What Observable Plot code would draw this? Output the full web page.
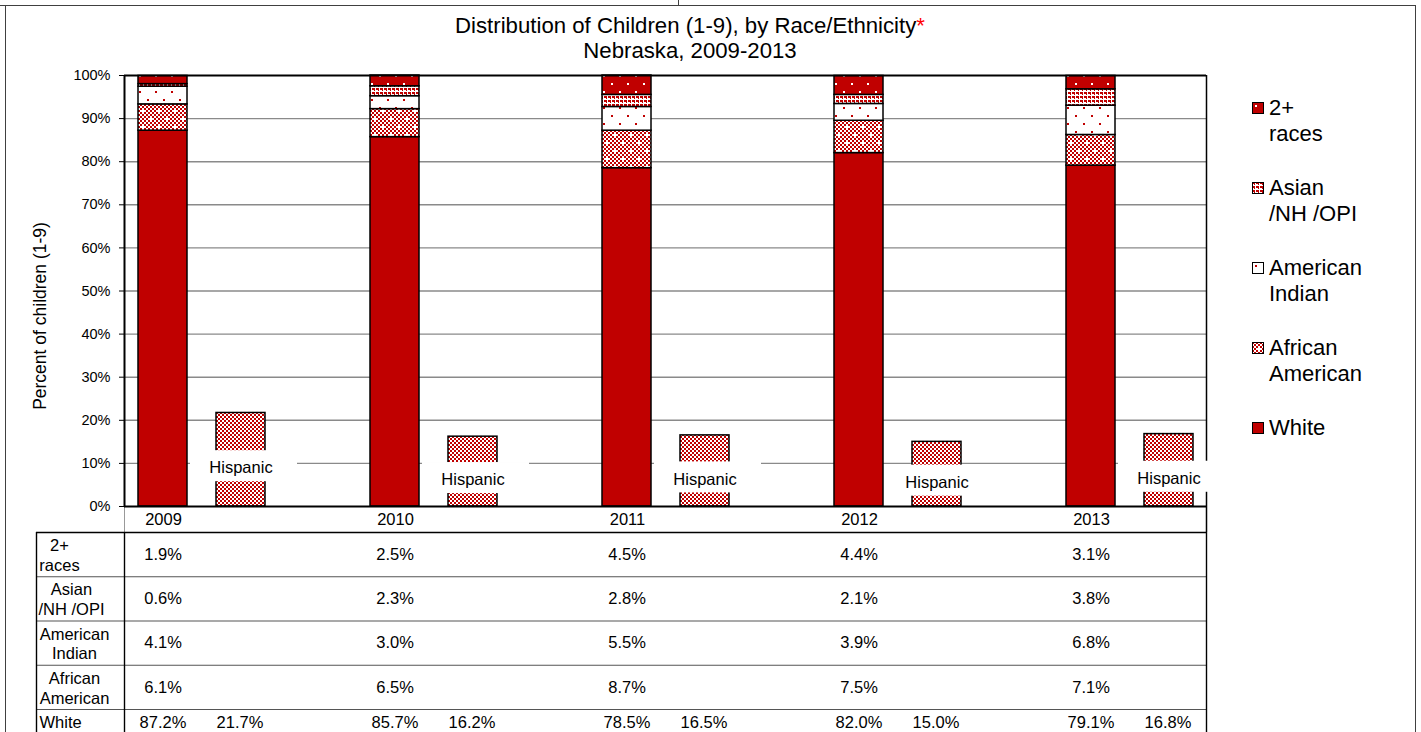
<!DOCTYPE html>
<html><head><meta charset="utf-8">
<script src="https://cdn.jsdelivr.net/npm/d3@7"></script>
<script src="https://cdn.jsdelivr.net/npm/@observablehq/plot@0.6"></script>
<style>
html,body{margin:0;padding:0;background:#fff;}
body{width:1421px;height:732px;overflow:hidden;position:relative;font-family:"Liberation Sans",Arial,sans-serif;color:#000;}
.abs{position:absolute;}
.title{left:0;width:1380px;text-align:center;font-size:22.2px;line-height:25px;white-space:nowrap;}
.leg{left:1252px;font-size:22px;line-height:26px;white-space:pre;}
.leg svg{position:absolute;left:0;top:7px;}
.leg span{position:absolute;left:17px;top:0;}
</style></head><body>
<svg width="0" height="0" style="position:absolute">
<defs>
  <pattern id="p-white" width="4" height="4" patternUnits="userSpaceOnUse">
    <rect width="4" height="4" fill="#C00000"/>
  </pattern>
  <pattern id="p-hisp" width="4" height="4" patternUnits="userSpaceOnUse">
    <rect width="4" height="4" fill="#fff"/>
    <rect width="2" height="2" fill="#C00000"/>
    <rect x="2" y="2" width="2" height="2" fill="#C00000"/>
  </pattern>
  <pattern id="p-aa" width="16" height="16" patternUnits="userSpaceOnUse">
    <rect width="16" height="16" fill="#fff"/>
    <path d="M0 0h2v2H0zM4 0h2v2H4zM8 0h2v2H8zM12 0h2v2h-2zM2 2h2v2H2zM6 2h2v2H6zM10 2h2v2h-2zM14 2h2v2h-2zM0 4h2v2H0zM4 4h2v2H4zM8 4h2v2H8zM12 4h2v2h-2zM2 6h2v2H2zM10 6h2v2h-2zM14 6h2v2h-2zM0 8h2v2H0zM4 8h2v2H4zM8 8h2v2H8zM12 8h2v2h-2zM2 10h2v2H2zM6 10h2v2H6zM10 10h2v2h-2zM14 10h2v2h-2zM0 12h2v2H0zM4 12h2v2H4zM8 12h2v2H8zM12 12h2v2h-2zM2 14h2v2H2zM6 14h2v2H6zM10 14h2v2h-2z" fill="#C00000"/>
    <rect x="1" y="1" width="1" height="1" fill="#C00000"/>
    <rect x="9" y="9" width="1" height="1" fill="#C00000"/>
  </pattern>
  <pattern id="p-ai" width="16" height="16" patternUnits="userSpaceOnUse">
    <rect width="16" height="16" fill="#fff"/>
    <rect x="3" y="3" width="2" height="2" fill="#C00000"/>
    <rect x="11" y="11" width="2" height="2" fill="#C00000"/>
  </pattern>
  <pattern id="p-asian" width="4" height="4" patternUnits="userSpaceOnUse">
    <rect width="4" height="4" fill="#fff"/>
    <rect width="3" height="2" fill="#C00000"/>
    <rect x="2" y="2" width="1" height="1" fill="#C00000"/>
  </pattern>
  <pattern id="p-two" width="16" height="16" patternUnits="userSpaceOnUse">
    <rect width="16" height="16" fill="#C00000"/>
    <rect x="3" y="3" width="2" height="2" fill="#fff"/>
    <rect x="11" y="11" width="2" height="2" fill="#fff"/>
  </pattern>
</defs>
</svg>

<div class="abs" style="left:5px;top:5px;width:1411px;height:800px;border:1px solid #404040;box-sizing:border-box;"></div>
<div class="abs" style="left:0;top:5px;width:6px;height:1px;background:#404040;"></div>
<div class="abs" style="left:678px;top:0;width:1px;height:6px;background:#404040;"></div>

<div class="abs title" style="top:13px;">Distribution of Children (1-9), by Race/Ethnicity<span style="color:#ff0000">*</span></div>
<div class="abs title" style="top:38px;">Nebraska, 2009-2013</div>

<div id="chart" class="abs" style="left:0;top:0;"></div>
<div id="table" class="abs" style="left:0;top:532px;"></div>
<div id="legend"></div>

<script>
// ---------- data ----------
const years = ["2009", "2010", "2011", "2012", "2013"];
const white = [87.2, 85.7, 78.5, 82.0, 79.1];
const africanAmerican = [6.1, 6.5, 8.7, 7.5, 7.1];
const americanIndian = [4.1, 3.0, 5.5, 3.9, 6.8];
const asianNHOPI = [0.6, 2.3, 2.8, 2.1, 3.8];
const twoPlusRaces = [1.9, 2.5, 4.5, 4.4, 3.1];
const hispanic = [21.7, 16.2, 16.5, 15.0, 16.8];
const raceNames = ["White", "African\nAmerican", "American\nIndian", "Asian\n/NH /OPI", "2+\nraces"];
const hispanicLabel = "Hispanic";
const yTicks = [0, 10, 20, 30, 40, 50, 60, 70, 80, 90, 100];
const yTitle = "Percent of children (1-9)";

// ---------- styling / layout ----------
const FONT = "Liberation Sans, Arial, sans-serif";
const patterns = {
  "White": "url(#p-white)",
  "African\nAmerican": "url(#p-aa)",
  "American\nIndian": "url(#p-ai)",
  "Asian\n/NH /OPI": "url(#p-asian)",
  "2+\nraces": "url(#p-two)"
};
const PERIOD = 232;               // px per year slot
const u = px => px / PERIOD;      // px inside a slot -> x units
const X0 = 124;
const Y_MIN = -26 / 4.31;         // category-label row below 0%
const X_END = u(1206 - X0);

const seriesValues = [white, africanAmerican, americanIndian, asianNHOPI, twoPlusRaces];
const stacked = [];
years.forEach((yr, i) => {
  let c = 0;
  raceNames.forEach((r, k) => {
    const v = seriesValues[k][i];
    stacked.push({i, race: r, y1: c, y2: c + v});
    c += v;
  });
});
const hisp = years.map((yr, i) => ({i, year: yr, value: hispanic[i], lab: hispanic[i] / 2 - 1.5}));

const chart = Plot.plot({
  width: 1421, height: 532,
  marginLeft: X0, marginRight: 1421 - 1206, marginTop: 75, marginBottom: 0,
  x: {domain: [0, 1], range: [X0, X0 + PERIOD], axis: null},
  y: {domain: [Y_MIN, 100], axis: null},
  color: {type: "identity"},
  style: {fontFamily: FONT, fontSize: "16.5px", color: "#000", background: "transparent", overflow: "visible"},
  marks: [
    Plot.ruleY(yTicks.filter(t => t > 0 && t < 100), {stroke: "#8a8a8a", strokeWidth: 1.4}),
    Plot.axisY(yTicks, {tickSize: 5, tickPadding: 9, fontSize: 14.5, tickFormat: d => d + "%", label: null, stroke: "#000", strokeWidth: 1}),
    Plot.text([yTitle], {frameAnchor: "left", textAnchor: "middle", rotate: -90, dx: -84, dy: 12, fontSize: 17.5, text: d => d}),
    Plot.ruleX([X_END], {y1: () => Y_MIN, y2: () => 100, stroke: "#000", strokeWidth: 1.5}),
    Plot.ruleX([0], {y1: () => Y_MIN, y2: () => 0, stroke: "#999", strokeWidth: 1}),
    Plot.rectY(stacked, {
      x1: d => d.i + u(14), x2: d => d.i + u(63), y1: "y1", y2: "y2",
      fill: d => patterns[d.race], stroke: "#000", strokeWidth: 1.5
    }),
    Plot.rectY(hisp, {
      x1: d => d.i + u(92), x2: d => d.i + u(141), y1: () => 0, y2: "value",
      fill: "url(#p-hisp)", stroke: "#000", strokeWidth: 1.5
    }),
    Plot.ruleY([100], {stroke: "#000", strokeWidth: 2}),
    Plot.ruleY([0], {stroke: "#000", strokeWidth: 2}),
    Plot.ruleX([0], {y1: () => 0, y2: () => 100, stroke: "#000", strokeWidth: 2}),
    Plot.rectY(hisp, {
      x1: d => d.i + u(66), x2: d => d.i + u(173), y1: d => d.lab - 3.6, y2: d => d.lab + 3.6,
      fill: "#fff"
    }),
    Plot.text(hisp, {x: d => d.i + u(116.5), y: "lab", dy: 2, text: () => hispanicLabel, fontSize: 16.5, fill: "#000"}),
    Plot.text(years, {x: (d, i) => i + u(39), y: () => Y_MIN / 2, text: d => d, fontSize: 16.5, fill: "#000"})
  ]
});
document.getElementById("chart").appendChild(chart);

// ---------- data table ----------
const tableOrder = [4, 3, 2, 1, 0]; // top row = 2+ races ... bottom = White
const labelX = {"2+\nraces": 59, "Asian\n/NH /OPI": 71, "American\nIndian": 74, "African\nAmerican": 74};
const rowY = r => (r === 4 ? 4.29 : r + 0.5);   // last row is cut by the page edge
const cells = [];
tableOrder.forEach((k, r) => {
  years.forEach((yr, i) => cells.push({r, i, t: seriesValues[k][i].toFixed(1) + "%"}));
});
const hispCells = years.map((yr, i) => ({r: 4, i, t: hispanic[i].toFixed(1) + "%"}));
const rowLabels = tableOrder.map((k, r) => ({r, name: raceNames[k]}));

const table = Plot.plot({
  width: 1421, height: 200,
  marginLeft: 36, marginRight: 1421 - 1206, marginTop: 0, marginBottom: 0,
  x: {domain: [0, 1], range: [X0, X0 + PERIOD], axis: null},
  y: {domain: [0, 5], range: [0, 221.25], axis: null},
  style: {fontFamily: FONT, fontSize: "16.5px", color: "#000", background: "transparent", overflow: "visible"},
  marks: [
    Plot.ruleY([1, 2, 3, 4], {stroke: "#555", strokeWidth: 1.2}),
    Plot.ruleY([0], {stroke: "#000", strokeWidth: 1.4}),
    Plot.ruleX([u(36 - X0), 0, X_END], {y1: () => 0, y2: () => 5, stroke: "#000", strokeWidth: 1.4}),
    Plot.text(cells, {x: d => d.i + u(38.5), y: d => rowY(d.r), text: "t", fontSize: 16.5, fill: "#000"}),
    Plot.text(hispCells, {x: d => d.i + u(115.5), y: d => rowY(d.r), text: "t", fontSize: 16.5, fill: "#000"}),
    Plot.text(rowLabels.filter(d => d.name.includes("\n")), {
      x: d => u(labelX[d.name] - X0), y: d => rowY(d.r), text: "name", fontSize: 16.5, lineHeight: 1.2, fill: "#000"
    }),
    Plot.text(rowLabels.filter(d => !d.name.includes("\n")), {
      x: () => u(39 - X0), y: d => rowY(d.r), text: "name", textAnchor: "start", fontSize: 16.5, fill: "#000"
    })
  ]
});
document.getElementById("table").appendChild(table);

// ---------- legend ----------
const legend = document.getElementById("legend");
[4, 3, 2, 1, 0].forEach((k, n) => {
  const name = raceNames[k];
  const item = document.createElement("div");
  item.className = "abs leg";
  item.style.top = (95 + n * 80) + "px";
  item.innerHTML = `<svg width="12" height="12"><rect x="0.5" y="0.5" width="11" height="11" fill="${patterns[name]}" stroke="#000" stroke-width="1"/></svg><span>${name}</span>`;
  legend.appendChild(item);
});
</script>
</body></html>
